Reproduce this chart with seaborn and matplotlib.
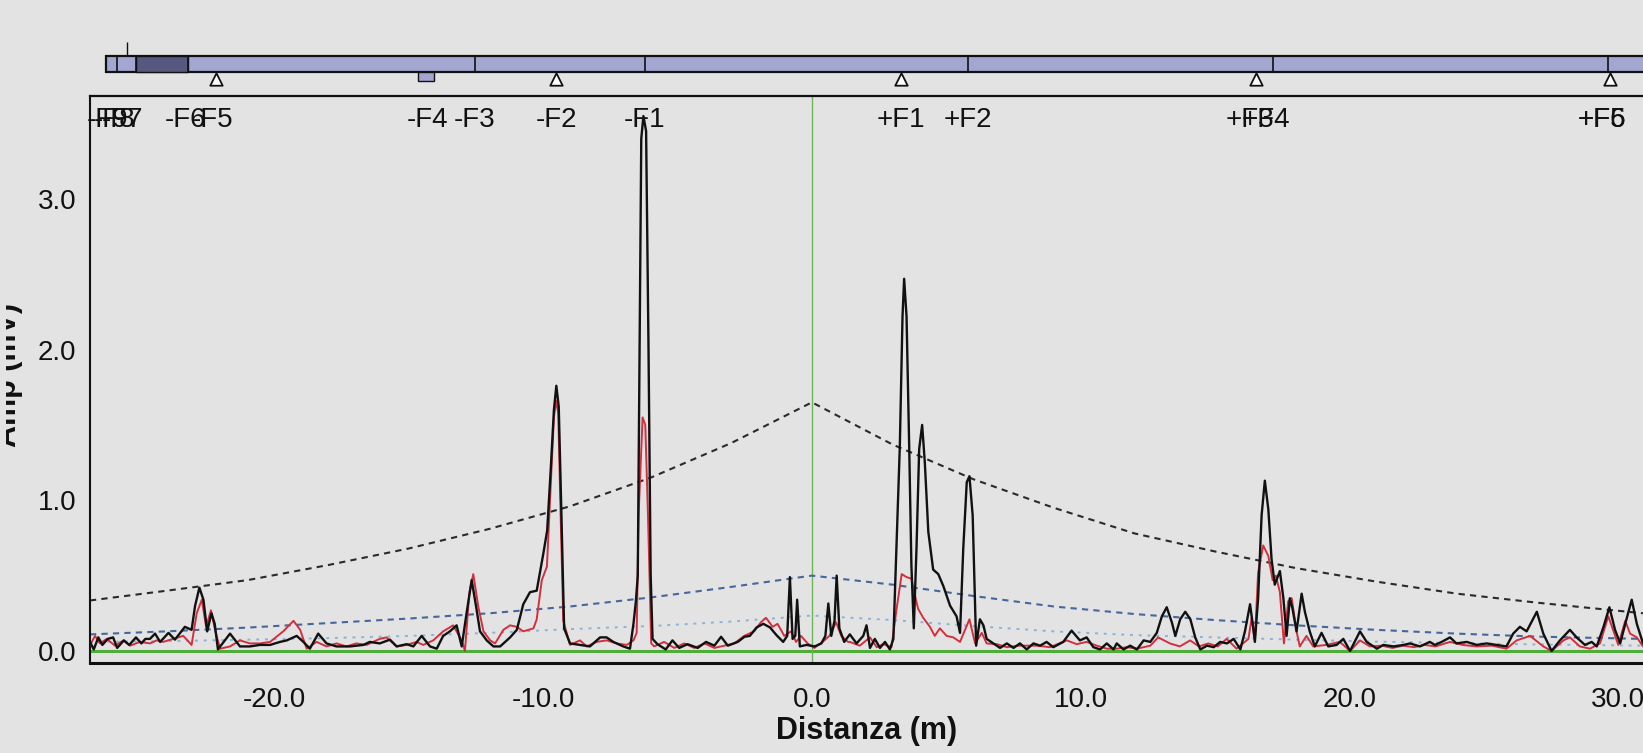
import matplotlib
matplotlib.use('Agg')
import matplotlib.pyplot as plt
import matplotlib.transforms as mtransforms
from matplotlib.patches import Rectangle
from matplotlib.ticker import FormatStrFormatter, FixedLocator
import seaborn as sns
import pandas as pd

# ---------------- data ----------------
black_trace = [
    (-26.86, 0.06), (-26.72, 0.01), (-26.55, 0.09), (-26.4, 0.04), (-26.2, 0.08), (-26.0, 0.09),
    (-25.85, 0.02), (-25.6, 0.07), (-25.4, 0.04), (-25.15, 0.09), (-24.95, 0.05), (-24.8, 0.08),
    (-24.63, 0.08), (-24.44, 0.115), (-24.25, 0.06), (-23.94, 0.12), (-23.7, 0.075), (-23.33, 0.16),
    (-23.08, 0.14), (-22.95, 0.30), (-22.79, 0.42), (-22.64, 0.34), (-22.5, 0.13), (-22.34, 0.25),
    (-22.22, 0.18), (-22.1, 0.01), (-21.65, 0.115), (-21.28, 0.03), (-20.91, 0.03), (-20.54, 0.04),
    (-20.16, 0.04), (-19.79, 0.06), (-19.54, 0.07), (-19.17, 0.10), (-18.92, 0.06), (-18.68, 0.015),
    (-18.37, 0.115), (-18.06, 0.05), (-17.69, 0.03), (-17.19, 0.03), (-16.69, 0.04), (-16.45, 0.06),
    (-16.08, 0.05), (-15.7, 0.075), (-15.45, 0.03), (-15.08, 0.045), (-14.83, 0.03), (-14.52, 0.10),
    (-14.21, 0.03), (-13.96, 0.015), (-13.72, 0.10), (-13.47, 0.13), (-13.22, 0.17), (-13.03, 0.03),
    (-12.85, 0.25), (-12.66, 0.47), (-12.5, 0.30), (-12.35, 0.13), (-12.1, 0.07), (-11.85, 0.03),
    (-11.6, 0.03), (-11.23, 0.09), (-10.98, 0.14), (-10.74, 0.31), (-10.49, 0.39), (-10.24, 0.40),
    (-9.99, 0.65), (-9.85, 0.80), (-9.72, 1.20), (-9.6, 1.60), (-9.51, 1.76), (-9.42, 1.62),
    (-9.32, 0.90), (-9.22, 0.15), (-9.0, 0.05), (-8.63, 0.04), (-8.26, 0.03), (-7.88, 0.09),
    (-7.64, 0.09), (-7.39, 0.06), (-7.02, 0.03), (-6.77, 0.015), (-6.64, 0.18), (-6.55, 0.33),
    (-6.48, 0.50), (-6.42, 1.80), (-6.35, 3.40), (-6.27, 3.55), (-6.17, 3.45), (-6.08, 2.00),
    (-6.0, 0.50), (-5.93, 0.08), (-5.75, 0.045), (-5.44, 0.01), (-5.19, 0.07), (-4.94, 0.02),
    (-4.63, 0.045), (-4.25, 0.02), (-3.94, 0.06), (-3.63, 0.035), (-3.38, 0.094), (-3.13, 0.035),
    (-2.76, 0.06), (-2.51, 0.094), (-2.31, 0.10), (-2.06, 0.156), (-1.81, 0.18), (-1.56, 0.156),
    (-1.32, 0.105), (-1.07, 0.06), (-0.92, 0.10), (-0.82, 0.49), (-0.72, 0.08), (-0.62, 0.10),
    (-0.55, 0.34), (-0.45, 0.03), (-0.2, 0.04), (0.1, 0.03), (0.35, 0.05), (0.5, 0.10),
    (0.61, 0.315), (0.72, 0.10), (0.84, 0.20), (0.92, 0.50), (1.02, 0.15), (1.2, 0.06),
    (1.41, 0.11), (1.66, 0.05), (1.91, 0.10), (2.03, 0.17), (2.16, 0.02), (2.34, 0.08),
    (2.53, 0.02), (2.72, 0.06), (2.9, 0.01), (3.03, 0.08), (3.15, 0.72), (3.27, 1.36),
    (3.37, 2.22), (3.43, 2.47), (3.52, 2.22), (3.62, 1.34), (3.70, 0.57), (3.79, 0.15),
    (3.89, 0.68), (3.99, 1.34), (4.10, 1.50), (4.20, 1.25), (4.33, 0.79), (4.51, 0.54),
    (4.70, 0.51), (4.89, 0.43), (5.14, 0.30), (5.38, 0.23), (5.51, 0.12), (5.63, 0.68),
    (5.76, 1.12), (5.86, 1.16), (5.98, 0.90), (6.11, 0.035), (6.25, 0.21), (6.38, 0.17),
    (6.5, 0.08), (6.75, 0.05), (7.0, 0.02), (7.25, 0.05), (7.5, 0.02), (7.74, 0.05),
    (7.99, 0.01), (8.24, 0.05), (8.49, 0.035), (8.73, 0.06), (8.98, 0.025), (9.35, 0.06),
    (9.66, 0.135), (9.97, 0.07), (10.22, 0.09), (10.47, 0.025), (10.72, 0.01), (10.97, 0.05),
    (11.22, 0.01), (11.34, 0.05), (11.59, 0.01), (11.84, 0.035), (12.09, 0.01), (12.34, 0.07),
    (12.59, 0.06), (12.83, 0.12), (13.02, 0.23), (13.2, 0.29), (13.39, 0.19), (13.52, 0.10),
    (13.7, 0.21), (13.89, 0.26), (14.08, 0.21), (14.26, 0.09), (14.45, 0.01), (14.7, 0.035),
    (14.95, 0.025), (15.19, 0.06), (15.44, 0.05), (15.69, 0.08), (15.94, 0.01), (16.11, 0.13),
    (16.3, 0.31), (16.42, 0.15), (16.48, 0.06), (16.6, 0.35), (16.73, 0.90), (16.85, 1.13),
    (16.98, 0.94), (17.1, 0.61), (17.22, 0.44), (17.41, 0.53), (17.54, 0.35), (17.66, 0.10),
    (17.78, 0.35), (17.88, 0.28), (18.03, 0.13), (18.22, 0.38), (18.34, 0.26), (18.52, 0.13),
    (18.71, 0.03), (18.96, 0.12), (19.21, 0.03), (19.52, 0.04), (19.77, 0.08), (20.02, 0.0),
    (20.39, 0.13), (20.64, 0.06), (21.02, 0.015), (21.26, 0.04), (21.64, 0.03), (22.01, 0.04),
    (22.25, 0.05), (22.62, 0.03), (22.99, 0.06), (23.18, 0.04), (23.43, 0.06), (23.74, 0.09),
    (23.98, 0.05), (24.36, 0.06), (24.73, 0.04), (25.1, 0.05), (25.47, 0.04), (25.84, 0.03),
    (26.09, 0.115), (26.34, 0.16), (26.59, 0.13), (26.97, 0.26), (27.21, 0.115), (27.52, 0.0),
    (27.83, 0.07), (28.2, 0.14), (28.45, 0.09), (28.76, 0.04), (29.01, 0.06), (29.2, 0.03),
    (29.45, 0.16), (29.67, 0.29), (29.88, 0.14), (30.07, 0.05), (30.29, 0.20), (30.5, 0.34),
    (30.69, 0.18), (30.92, 0.05),
]

red_trace = [
    (-26.86, 0.04), (-26.67, 0.10), (-26.49, 0.05), (-26.24, 0.08), (-25.93, 0.035), (-25.62, 0.07),
    (-25.37, 0.035), (-25.0, 0.06), (-24.63, 0.05), (-24.38, 0.07), (-24.14, 0.06), (-23.76, 0.08),
    (-23.39, 0.10), (-23.08, 0.04), (-22.89, 0.25), (-22.7, 0.34), (-22.54, 0.16), (-22.36, 0.27),
    (-22.21, 0.14), (-22.02, 0.015), (-21.65, 0.03), (-21.28, 0.07), (-20.91, 0.05), (-20.54, 0.05),
    (-20.16, 0.06), (-19.67, 0.13), (-19.29, 0.20), (-19.04, 0.14), (-18.8, 0.015), (-18.43, 0.06),
    (-18.06, 0.03), (-17.69, 0.05), (-17.32, 0.03), (-16.95, 0.05), (-16.57, 0.04), (-16.08, 0.08),
    (-15.83, 0.09), (-15.45, 0.03), (-15.08, 0.04), (-14.71, 0.06), (-14.46, 0.04), (-14.09, 0.07),
    (-13.72, 0.13), (-13.35, 0.17), (-13.03, 0.07), (-12.91, 0.0), (-12.75, 0.38), (-12.6, 0.51),
    (-12.41, 0.29), (-12.22, 0.13), (-11.97, 0.07), (-11.79, 0.05), (-11.48, 0.14), (-11.23, 0.17),
    (-10.98, 0.16), (-10.74, 0.13), (-10.55, 0.14), (-10.36, 0.15), (-10.24, 0.21), (-10.05, 0.47),
    (-9.86, 0.56), (-9.72, 1.10), (-9.6, 1.55), (-9.52, 1.66), (-9.44, 1.58), (-9.35, 0.90),
    (-9.25, 0.20), (-9.0, 0.04), (-8.63, 0.07), (-8.38, 0.03), (-8.01, 0.06), (-7.64, 0.07),
    (-7.27, 0.05), (-6.89, 0.04), (-6.64, 0.07), (-6.52, 0.12), (-6.45, 0.90), (-6.3, 1.55),
    (-6.2, 1.50), (-6.1, 0.90), (-5.98, 0.05), (-5.87, 0.03), (-5.5, 0.06), (-5.12, 0.02),
    (-4.75, 0.05), (-4.38, 0.02), (-4.0, 0.05), (-3.63, 0.02), (-3.26, 0.035), (-2.89, 0.05),
    (-2.52, 0.10), (-2.15, 0.13), (-1.9, 0.19), (-1.71, 0.22), (-1.46, 0.16), (-1.28, 0.18),
    (-1.03, 0.10), (-0.78, 0.13), (-0.59, 0.06), (-0.41, 0.10), (-0.16, 0.05), (0.09, 0.02),
    (0.4, 0.06), (0.65, 0.10), (0.9, 0.19), (1.09, 0.10), (1.34, 0.06), (1.41, 0.06),
    (1.78, 0.035), (2.16, 0.09), (2.41, 0.025), (2.65, 0.045), (2.96, 0.025), (3.15, 0.28),
    (3.34, 0.51), (3.52, 0.49), (3.7, 0.48), (3.83, 0.37), (3.95, 0.28), (4.14, 0.22),
    (4.39, 0.16), (4.57, 0.10), (4.76, 0.15), (5.01, 0.10), (5.26, 0.09), (5.51, 0.06),
    (5.86, 0.21), (6.07, 0.05), (6.32, 0.12), (6.5, 0.05), (6.88, 0.045), (7.25, 0.025),
    (7.7, 0.035), (8.36, 0.035), (8.86, 0.025), (9.48, 0.07), (9.85, 0.045), (10.22, 0.06),
    (10.6, 0.035), (10.97, 0.015), (11.34, 0.015), (11.72, 0.025), (12.09, 0.015), (12.59, 0.035),
    (12.88, 0.09), (13.32, 0.05), (13.69, 0.03), (14.07, 0.07), (14.4, 0.03), (14.75, 0.05),
    (15.1, 0.03), (15.43, 0.08), (15.8, 0.015), (16.24, 0.08), (16.36, 0.22), (16.48, 0.07),
    (16.6, 0.52), (16.79, 0.70), (16.98, 0.63), (17.14, 0.47), (17.26, 0.50), (17.41, 0.39),
    (17.56, 0.05), (17.72, 0.33), (17.85, 0.35), (18.03, 0.13), (18.15, 0.03), (18.4, 0.10),
    (18.65, 0.03), (19.14, 0.04), (19.64, 0.06), (20.02, 0.0), (20.39, 0.07), (20.76, 0.03),
    (21.2, 0.035), (21.6, 0.02), (22.0, 0.035), (22.4, 0.025), (22.8, 0.04), (23.2, 0.03),
    (23.74, 0.06), (24.2, 0.04), (24.73, 0.03), (25.3, 0.035), (25.84, 0.015), (26.22, 0.07),
    (26.72, 0.10), (27.21, 0.03), (27.52, 0.0), (27.96, 0.07), (28.2, 0.09), (28.57, 0.03),
    (28.95, 0.015), (29.32, 0.05), (29.63, 0.23), (30.0, 0.04), (30.26, 0.20), (30.44, 0.115),
    (30.69, 0.09), (30.92, 0.03),
]

thr_x = [-26.86, -24, -21, -18, -15, -12, -9, -6, -3, 0, 3, 6, 9, 12, 15, 18, 21, 24, 27, 30.92]
thr_black = [0.335, 0.40, 0.47, 0.57, 0.68, 0.81, 0.96, 1.15, 1.38, 1.65,
             1.37, 1.14, 0.95, 0.78, 0.66, 0.55, 0.46, 0.38, 0.32, 0.25]
thr_blue = [0.11, 0.13, 0.155, 0.185, 0.215, 0.25, 0.295, 0.355, 0.425, 0.50,
            0.44, 0.365, 0.295, 0.245, 0.205, 0.17, 0.14, 0.115, 0.095, 0.08]
thr_light = [0.06, 0.065, 0.075, 0.085, 0.10, 0.12, 0.145, 0.165, 0.195, 0.235,
             0.205, 0.165, 0.13, 0.105, 0.09, 0.075, 0.062, 0.052, 0.043, 0.035]

event_labels = ['-F9', '-F8', '-F7', '-F6', '-F5', '-F4', '-F3', '-F2', '-F1',
                '+F1', '+F2', '+F3', '+F4', '+F5', '+F6']
event_pos = [-26.2, -25.95, -25.65, -23.3, -22.3, -14.3, -12.55, -9.52, -6.21,
             3.31, 5.80, 16.3, 16.9, 29.4, 29.4]

triangle_pos = [-22.17, -9.52, 3.31, 16.52, 29.69]
bar_dividers = [-25.86, -25.15, -23.21, -12.54, -6.21, 5.80, 17.15, 29.61]
bar_start = -26.27
dark_segment = (-25.15, -23.21)
tab_span = (-14.66, -14.06)
bar_tick = -25.48

x_ticks = [-20, -10, 0, 10, 20, 30]
y_ticks = [0, 1, 2, 3]
x_range = (-26.86, 30.92)
y_range = (-0.08, 3.683)

# ---------------- style ----------------
BG = '#e3e3e3'
sns.set_theme(style='white')
plt.rcParams['font.family'] = ['Liberation Sans', 'DejaVu Sans']
plt.rcParams['axes.unicode_minus'] = False
plt.rcParams['figure.facecolor'] = BG
plt.rcParams['axes.facecolor'] = BG

W, H = 1643, 753
fig = plt.figure(figsize=(W / 100, H / 100), dpi=100)
ax = fig.add_axes([90 / W, (H - 663) / H, (W - 90) / W, (663 - 96) / H])
ax_bar = fig.add_axes([90 / W, (H - 92) / H, (W - 90) / W, 52 / H])

df_black = pd.DataFrame(black_trace, columns=['x', 'y'])
df_red = pd.DataFrame(red_trace, columns=['x', 'y'])
df_thr = pd.DataFrame({'x': thr_x, 'black': thr_black, 'blue': thr_blue, 'light': thr_light})

# baseline and centre line
ax.axhline(0, color='#4fae3a', lw=2.2, zorder=1)
ax.axvline(0, color='#6fb45a', lw=1.0, zorder=1)

sns.lineplot(data=df_thr, x='x', y='light', ax=ax, color='#8cb2d6', lw=1.4,
             linestyle=(0, (1.5, 3)), estimator=None, sort=False, zorder=2)
sns.lineplot(data=df_thr, x='x', y='blue', ax=ax, color='#46679b', lw=1.5,
             linestyle=(0, (3, 2.5)), estimator=None, sort=False, zorder=2)
sns.lineplot(data=df_thr, x='x', y='black', ax=ax, color='#2a2a2a', lw=1.5,
             linestyle=(0, (3, 2.5)), estimator=None, sort=False, zorder=2)
sns.lineplot(data=df_red, x='x', y='y', ax=ax, color='#d2303f', lw=1.4,
             estimator=None, sort=False, zorder=3)
sns.lineplot(data=df_black, x='x', y='y', ax=ax, color='#111111', lw=1.7,
             estimator=None, sort=False, zorder=4)

ax.set_xlim(*x_range)
ax.set_ylim(*y_range)
ax.xaxis.set_major_locator(FixedLocator(x_ticks))
ax.yaxis.set_major_locator(FixedLocator(y_ticks))
ax.xaxis.set_major_formatter(FormatStrFormatter('%.1f'))
ax.yaxis.set_major_formatter(FormatStrFormatter('%.1f'))
ax.tick_params(axis='both', labelsize=20, length=8, width=1.3, colors='#111111', direction='out')
ax.tick_params(axis='x', pad=9)
ax.tick_params(axis='y', pad=2)
ax.grid(False)

for side in ['left', 'bottom', 'top']:
    ax.spines[side].set_visible(True)
    ax.spines[side].set_color('#111111')
ax.spines['right'].set_visible(False)
ax.spines['left'].set_linewidth(1.5)
ax.spines['top'].set_linewidth(1.6)
ax.spines['bottom'].set_linewidth(2.2)

ax.set_ylabel('')
ax.set_xlabel('Distanza (m)', fontsize=22, fontweight='bold', color='#111111')
ax.xaxis.set_label_coords(0.5, -0.12)
ax.xaxis.label.set_va('center')

fig.text(23 / W, (H - 375) / H, 'Amp (mV)', rotation=90, ha='right', va='center',
         fontsize=22, fontweight='bold', color='#111111', zorder=1)
# the original is cropped at its left border, hiding the upper part of the label
fig.patches.append(Rectangle((0, 0), 6 / W, 1, transform=fig.transFigure,
                             facecolor=BG, edgecolor='none', zorder=10))

# event labels along the top of the plot
trans = mtransforms.blended_transform_factory(ax.transData, ax.transAxes)
for lab, pos in zip(event_labels, event_pos):
    ax.text(pos, 0.945, lab, transform=trans, ha='center', va='baseline',
            fontsize=20, color='#111111', clip_on=False, zorder=5)

# top bar (pipe schematic)
ax_bar.set_xlim(*x_range)
ax_bar.set_ylim(52, 0)
ax_bar.axis('off')
bar_color = '#a3a6d1'
ax_bar.add_patch(Rectangle((bar_start, 15.5), x_range[1] - bar_start + 2, 16,
                           facecolor=bar_color, edgecolor='#111111', lw=1.6))
ax_bar.add_patch(Rectangle((dark_segment[0], 15.5), dark_segment[1] - dark_segment[0], 16,
                           facecolor='#56587f', edgecolor='#111111', lw=1.0))
ax_bar.vlines(bar_dividers, 15.5, 31.5, color='#111111', lw=1.2)
ax_bar.add_patch(Rectangle((tab_span[0], 31.5), tab_span[1] - tab_span[0], 9,
                           facecolor=bar_color, edgecolor='#111111', lw=1.0))
ax_bar.vlines([bar_tick], 2, 15.5, color='#111111', lw=1.0)
ax_bar.scatter(triangle_pos, [38.5] * len(triangle_pos), marker='^', s=80,
               facecolor='white', edgecolor='#111111', linewidths=1.3, zorder=3, clip_on=False)

fig.savefig('out.png', dpi=100, facecolor=BG)
